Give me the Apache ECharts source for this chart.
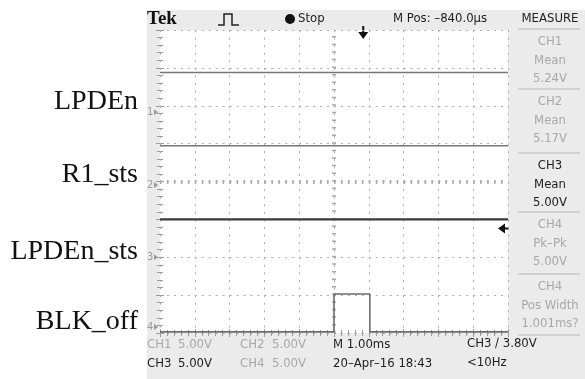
<!DOCTYPE html>
<html><head><meta charset="utf-8">
<script src="https://cdn.jsdelivr.net/npm/echarts@6/dist/echarts.min.js"></script>
<style>html,body{margin:0;padding:0;background:#fff}#c{width:585px;height:379px}</style>
</head><body><div id="c"></div>
<script>
// ---- data ----
const signalLabels = ['LPDEn', 'R1_sts', 'LPDEn_sts', 'BLK_off'];
const channelNames = ['1', '2', '3', '4'];
const groundDiv = [5.83, 3.91, 2.0, 0.03];   // channel ground marker position (divisions)
const voltsPerDiv = 5;
const timeMs = [0, 10];
const ch1Volts = [5.24, 5.24];
const ch2Volts = [5.17, 5.17];
const ch3Volts = [5.00, 5.00];
const ch4TimeMs = [0, 5.0, 5.0, 6.03, 6.03, 10];
const ch4Volts = [0, 0, 5.0, 5.0, 0, 0];
const triggerPosMs = 5.84;
const triggerLevelV = 3.80;
const triggerChannel = 2;
const measureItems = [
  ['CH1', 'Mean', '5.24V', false],
  ['CH2', 'Mean', '5.17V', false],
  ['CH3', 'Mean', '5.00V', true],
  ['CH4', 'Pk\u2013Pk', '5.00V', false],
  ['CH4', 'Pos Width', '1.001ms?', false]
];

const G = {left: 160, top: 30, width: 348, height: 303};
const SANS = '"Liberation Sans Narrow","DejaVu Sans Condensed","Liberation Sans",sans-serif';
const GRAY_TXT = '#a8a8a8', DARK_TXT = '#1e1e1e';

function toDiv(volts, ch) { return volts.map(v => groundDiv[ch] + v / voltsPerDiv); }
function pairs(xs, ys) { return xs.map((x, i) => [x, ys[i]]); }

const chart = echarts.init(document.getElementById('c'), null, {renderer: 'canvas'});

const gridLineV = {color: '#ababab', width: 1, type: [2, 5.575]};
const gridLineH = {color: '#ababab', width: 1, type: [2, 4.96]};
const tickStyle = {color: '#9c9c9c', width: 1};

function xAx(pos, split) {
  return {type: 'value', min: 0, max: 10, interval: 1, position: pos,
    axisLine: {show: false}, axisLabel: {show: false},
    axisTick: {show: true, inside: true, length: 4, lineStyle: tickStyle},
    minorTick: {show: true, splitNumber: 5, length: 3, lineStyle: tickStyle},
    splitLine: {show: split, showMinLine: true, showMaxLine: true, lineStyle: gridLineV}};
}
function yAx(pos, split) {
  return {type: 'value', min: 0, max: 8, interval: 1, position: pos,
    axisLine: {show: false}, axisLabel: {show: false},
    axisTick: {show: true, inside: true, length: 4, lineStyle: tickStyle},
    minorTick: {show: true, splitNumber: 5, length: 3, lineStyle: tickStyle},
    splitLine: {show: split, showMinLine: true, showMaxLine: true, lineStyle: gridLineH}};
}

const traceSeries = [
  {name: 'CH1', data: pairs(timeMs, toDiv(ch1Volts, 0)), color: '#767676', w: 1.5},
  {name: 'CH2', data: pairs(timeMs, toDiv(ch2Volts, 1)), color: '#767676', w: 1.5},
  {name: 'CH3', data: pairs(timeMs, toDiv(ch3Volts, 2)), color: '#3a3a3a', w: 2.2},
  {name: 'CH4', data: pairs(ch4TimeMs, toDiv(ch4Volts, 3)), color: '#6c6c6c', w: 1.6}
].map(s => ({
  type: 'line', name: s.name, data: s.data, xAxisIndex: 0, yAxisIndex: 0,
  symbol: 'none', silent: true, animation: false, clip: true, z: 5,
  lineStyle: {color: s.color, width: s.w}
}));

// center cross lines with dense tick marks
traceSeries.push({
  type: 'line', data: [], xAxisIndex: 0, yAxisIndex: 0, silent: true, animation: false,
  markLine: {silent: true, symbol: 'none', label: {show: false}, animation: false,
    data: [
      {xAxis: 5, lineStyle: {color: '#a8a8a8', width: 4, type: [1.5, 6.075]}},
      {yAxis: 4, lineStyle: {color: '#a8a8a8', width: 4, type: [1.5, 5.46]}}
    ]}
});

const graphics = [];
// scope background panel
graphics.push({type: 'rect', z: -10, silent: true, shape: {x: 147, y: 10, width: 438, height: 369}, style: {fill: '#ebebeb'}});
// signal name labels
const labelY = [102, 175, 252, 322];
signalLabels.forEach((t, i) => graphics.push({type: 'text', silent: true,
  style: {text: t, x: 138, y: labelY[i], align: 'right', verticalAlign: 'middle',
    font: '28px "Liberation Serif","Times New Roman",serif', fill: '#111'}}));
// header
graphics.push({type: 'text', silent: true, style: {text: 'Tek', x: 147, y: 19, verticalAlign: 'middle', font: 'bold 19px "Liberation Serif",serif', fill: '#111'}});
graphics.push({type: 'polyline', silent: true, shape: {points: [[218, 25], [224, 25], [224, 14], [232, 14], [232, 25], [239, 25]]}, style: {stroke: '#222', lineWidth: 1.5, fill: null}});
graphics.push({type: 'circle', silent: true, shape: {cx: 290, cy: 19, r: 5}, style: {fill: '#111'}});
graphics.push({type: 'text', silent: true, style: {text: 'Stop', x: 298, y: 19, verticalAlign: 'middle', font: '13px ' + SANS, fill: '#222'}});
graphics.push({type: 'text', silent: true, style: {text: 'M Pos: \u2013840.0\u00b5s', x: 393, y: 19, verticalAlign: 'middle', font: '13px ' + SANS, fill: '#222'}});
// measure panel
graphics.push({type: 'text', silent: true, style: {text: 'MEASURE', x: 550, y: 19, align: 'center', verticalAlign: 'middle', font: '13px ' + SANS, fill: '#222'}});
const measureTop = [29, 89, 153, 212, 274];
const sepYs = [29, 89, 153, 212, 274, 335];
sepYs.forEach(y => graphics.push({type: 'line', silent: true, shape: {x1: 518, y1: y, x2: 580, y2: y}, style: {stroke: '#c9c9c9', lineWidth: 1.5}}));
measureItems.forEach((m, i) => {
  const y0 = measureTop[i];
  [m[0], m[1], m[2]].forEach((t, j) => graphics.push({type: 'text', silent: true,
    style: {text: t, x: 550, y: y0 + 13 + j * 18.5, align: 'center', verticalAlign: 'middle',
      font: '13px ' + SANS, fill: m[3] ? DARK_TXT : GRAY_TXT}}));
});
// bottom status rows
const bottom = [
  ['CH1', 147, 345, GRAY_TXT], ['5.00V', 178, 345, GRAY_TXT],
  ['CH2', 240, 345, GRAY_TXT], ['5.00V', 272, 345, GRAY_TXT],
  ['M 1.00ms', 333, 345, DARK_TXT], ['CH3 \u2215 3.80V', 467, 344, DARK_TXT],
  ['CH3', 147, 364, DARK_TXT], ['5.00V', 178, 364, DARK_TXT],
  ['CH4', 240, 364, GRAY_TXT], ['5.00V', 272, 364, GRAY_TXT],
  ['20\u2013Apr\u201316 18:43', 333, 364, DARK_TXT], ['<10Hz', 467, 363, DARK_TXT]
];
bottom.forEach(b => graphics.push({type: 'text', silent: true,
  style: {text: b[0], x: b[1], y: b[2], verticalAlign: 'middle', font: '13px ' + SANS, fill: b[3]}}));

chart.setOption({
  animation: false,
  backgroundColor: '#ffffff',
  grid: {left: G.left, top: G.top, width: G.width, height: G.height, show: true, backgroundColor: '#ffffff', borderWidth: 0},
  xAxis: [xAx('bottom', true), xAx('top', false)],
  yAxis: [yAx('left', true), yAx('right', false)],
  series: traceSeries,
  graphic: graphics
});

// markers placed through the chart's own scales
const extra = [];
groundDiv.forEach((g, i) => {
  const p = chart.convertToPixel({xAxisIndex: 0, yAxisIndex: 0}, [0, g]);
  const y = Math.min(p[1], 327);
  extra.push({type: 'text', silent: true, style: {text: channelNames[i], x: 147, y: y, verticalAlign: 'middle', font: '11px ' + SANS, fill: '#999'}});
  extra.push({type: 'polygon', silent: true, shape: {points: [[154, y - 3], [158, y], [154, y + 3]]}, style: {fill: '#999'}});
});
const tp = chart.convertToPixel({xAxisIndex: 0, yAxisIndex: 0}, [triggerPosMs, 8]);
extra.push({type: 'polygon', silent: true, shape: {points: [[tp[0] - 5, tp[1] + 2], [tp[0] + 5, tp[1] + 2], [tp[0], tp[1] + 9]]}, style: {fill: '#111'}});
extra.push({type: 'line', silent: true, shape: {x1: tp[0], y1: tp[1] - 4, x2: tp[0], y2: tp[1] + 4}, style: {stroke: '#111', lineWidth: 2}});
const lp = chart.convertToPixel({xAxisIndex: 0, yAxisIndex: 0}, [10, groundDiv[triggerChannel] + triggerLevelV / voltsPerDiv]);
extra.push({type: 'polygon', silent: true, shape: {points: [[lp[0] - 10, lp[1]], [lp[0] - 3, lp[1] - 5], [lp[0] - 3, lp[1] + 5]]}, style: {fill: '#111'}});
extra.push({type: 'line', silent: true, shape: {x1: lp[0] - 4, y1: lp[1], x2: lp[0] + 1, y2: lp[1]}, style: {stroke: '#111', lineWidth: 2}});
chart.setOption({graphic: graphics.concat(extra)});
</script>
</body></html>
